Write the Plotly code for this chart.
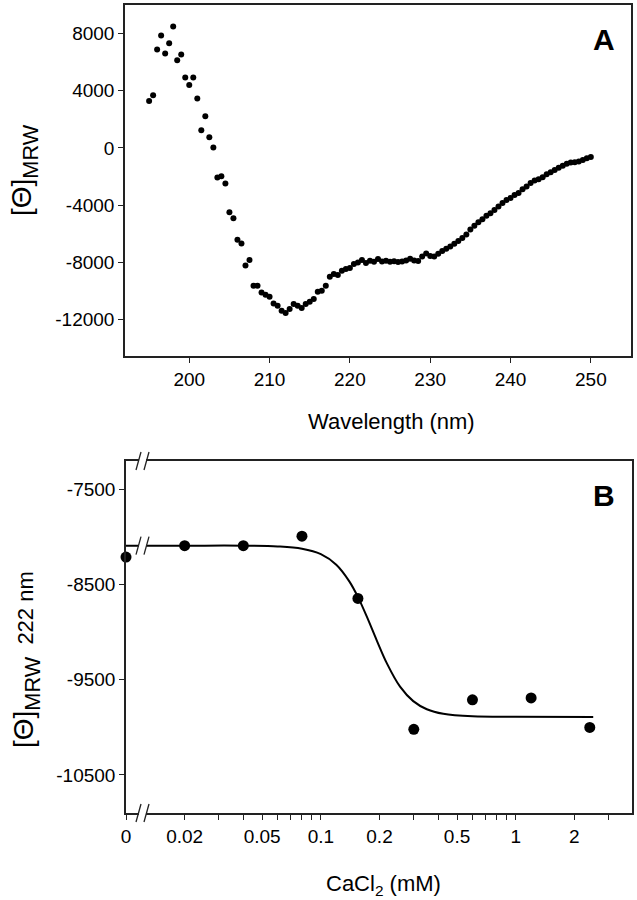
import plotly.graph_objects as go

# ---------------- Panel A data (CD spectrum) ----------------
wavelength_start = 195.0
wavelength_step = 0.5
theta_a = [
    3290, 3690, 6880, 7860, 6600, 7320, 8490, 6130, 6530, 4920,
    4410, 4920, 3450, 1240, 2220, 750, 30, -2070, -1980, -2490,
    -4510, -4930, -6420, -6680, -8220, -7850, -9640, -9640, -10110, -10270,
    -10410, -10880, -11040, -11390, -11550, -11270, -10920, -11040, -11200, -10920,
    -10760, -10570, -10060, -9990, -9640, -9010, -8830, -8900, -8590, -8480,
    -8410, -8130, -8010, -7850, -8060, -7890, -7960, -7780,
    -7940, -7900, -7960, -7930, -7980, -7950, -7870, -7760, -7880, -7920,
    -7600, -7380, -7560, -7600, -7400, -7220, -7050, -6900, -6700, -6520,
    -6300, -6050, -5700, -5450, -5200, -5000, -4750, -4580, -4350, -4100,
    -3850, -3650, -3500, -3300, -3150, -2900, -2700, -2450, -2280, -2200,
    -2050, -1850, -1700, -1550, -1380, -1250, -1100, -1020, -1000, -950,
    -850, -730, -630,
]
wavelength = [wavelength_start + i * wavelength_step for i in range(len(theta_a))]

a_xticks = [200, 210, 220, 230, 240, 250]
a_yticks = [8000, 4000, 0, -4000, -8000, -12000]
a_yticktext = ["8000", "4000", "0", "-4000", "-8000", "-12000"]

# ---------------- Panel B data (CaCl2 titration) ----------------
cacl2 = [0, 0.02, 0.04, 0.08, 0.155, 0.3, 0.6, 1.2, 2.4]
theta_222 = [-8210, -8090, -8090, -7990, -8645, -10020, -9710, -9690, -10000]

fit_x = [0, 0.02, 0.04, 0.06, 0.08, 0.1, 0.12, 0.14, 0.156, 0.172, 0.194,
         0.218, 0.255, 0.298, 0.35, 0.425, 0.6, 1.0, 2.5]
fit_y = [-8090, -8090, -8090, -8098, -8122, -8179, -8290, -8465, -8641, -8834, -9090,
         -9325, -9572, -9724, -9809, -9857, -9884, -9889, -9890]

X_ZERO = 0.01  # position where "0" is drawn on the broken log axis
b_xticks = [0.01, 0.02, 0.05, 0.1, 0.2, 0.5, 1, 2]
b_xticktext = ["0", "0.02", "0.05", "0.1", "0.2", "0.5", "1", "2"]
b_xminor = [0.03, 0.04, 0.06, 0.07, 0.08, 0.09, 0.3, 0.4, 0.6, 0.7, 0.8, 0.9, 3]
b_yticks = [-7500, -8500, -9500, -10500]
b_yticktext = ["-7500", "-8500", "-9500", "-10500"]


def to_plot_x(vals):
    return [X_ZERO if v == 0 else v for v in vals]


FONT = "Liberation Sans, Arial, sans-serif"
LINE = "#222222"

fig = go.Figure()
fig.add_trace(go.Scatter(x=wavelength, y=theta_a, mode="markers",
                         marker=dict(size=6, color="black"),
                         xaxis="x", yaxis="y", showlegend=False))
fig.add_trace(go.Scatter(x=to_plot_x(fit_x), y=fit_y, mode="lines",
                         line=dict(color="black", width=2, shape="spline", smoothing=1.0),
                         xaxis="x2", yaxis="y2", showlegend=False, cliponaxis=False))
fig.add_trace(go.Scatter(x=to_plot_x(cacl2), y=theta_222, mode="markers",
                         marker=dict(size=11, color="black"),
                         xaxis="x2", yaxis="y2", showlegend=False, cliponaxis=False))

W, H = 637, 900
axis_common = dict(showline=True, mirror=True, linecolor=LINE, linewidth=1.5,
                   ticks="outside", ticklen=5, tickcolor=LINE, tickwidth=1.2,
                   showgrid=False, zeroline=False, tickangle=0, automargin=False,
                   tickfont=dict(family=FONT, size=19, color="black"))

fig.update_layout(
    width=W, height=H,
    margin=dict(l=0, r=0, t=0, b=0, autoexpand=False),
    paper_bgcolor="white", plot_bgcolor="white",
    xaxis=dict(domain=[125 / W, 631 / W], range=[192, 255], anchor="y",
               tickmode="array", tickvals=a_xticks, **axis_common),
    yaxis=dict(domain=[1 - 356 / H, 1 - 5 / H], range=[-14560, 10000], anchor="x",
               tickmode="array", tickvals=a_yticks, ticktext=a_yticktext, **axis_common),
    xaxis2=dict(domain=[126 / W, 632 / W], type="log", range=[-2, 0.597], anchor="y2",
                tickmode="array", tickvals=b_xticks, ticktext=b_xticktext,
                minor=dict(tickmode="array", tickvals=b_xminor, ticks="outside",
                           ticklen=5, tickwidth=1.2, tickcolor=LINE, showgrid=False),
                **axis_common),
    yaxis2=dict(domain=[1 - 813 / H, 1 - 461 / H], range=[-10900, -7200], anchor="x2",
                tickmode="array", tickvals=b_yticks, ticktext=b_yticktext, **axis_common),
)

ann_font = dict(family=FONT, size=22, color="black")
ctr = dict(xref="paper", yref="paper", showarrow=False, xanchor="center", yanchor="middle")
annotations = [
    dict(text="Wavelength (nm)", x=391 / W, y=1 - 421 / H, font=ann_font, **ctr),
    dict(text="CaCl<sub>2</sub> (mM)", x=383 / W, y=1 - 885 / H, font=ann_font, **ctr),
    dict(text="<span style='font-size:28px'>[Θ]</span><sub>MRW</sub>",
         x=24 / W, y=1 - 170 / H, textangle=-90,
         font=dict(family=FONT, size=31, color="black"), **ctr),
    dict(text="<span style='font-size:28px'>[Θ]</span><sub>MRW</sub>"
              "<span style='font-size:22px'>\u00a0\u00a0222 nm</span>",
         x=26 / W, y=1 - 660 / H, textangle=-90,
         font=dict(family=FONT, size=31, color="black"), **ctr),
    dict(text="<b>A</b>", x=604 / W, y=1 - 40 / H,
         font=dict(family=FONT, size=30, color="black"), **ctr),
    dict(text="<b>B</b>", x=604 / W, y=1 - 495 / H,
         font=dict(family=FONT, size=30, color="black"), **ctr),
]
fig.update_layout(annotations=annotations)

# axis-break marks ("//") between 0 and 0.02 on panel B
BRK = 16.5 / 506  # fraction of x2 domain
shapes = []
for yref, yanc in [("y2 domain", 1), ("y2 domain", 0), ("y2", fit_y[0])]:
    base = dict(xref="x2 domain", yref=yref, xsizemode="pixel", ysizemode="pixel",
                xanchor=BRK, yanchor=yanc, layer="above")
    shapes.append(dict(type="rect", x0=-3.5, x1=3.5, y0=-2.5, y1=2.5,
                       fillcolor="white", line=dict(width=0), **base))
    shapes.append(dict(type="line", x0=-6.5, y0=-9, x1=-1.5, y1=9,
                       line=dict(color=LINE, width=1.3), **base))
    shapes.append(dict(type="line", x0=1.5, y0=-9, x1=6.5, y1=9,
                       line=dict(color=LINE, width=1.3), **base))
fig.update_layout(shapes=shapes)

fig.write_html(
    "out.html",
    config={"displayModeBar": False},
    post_script="document.body.style.margin='0';document.body.style.overflow='hidden';",
)
